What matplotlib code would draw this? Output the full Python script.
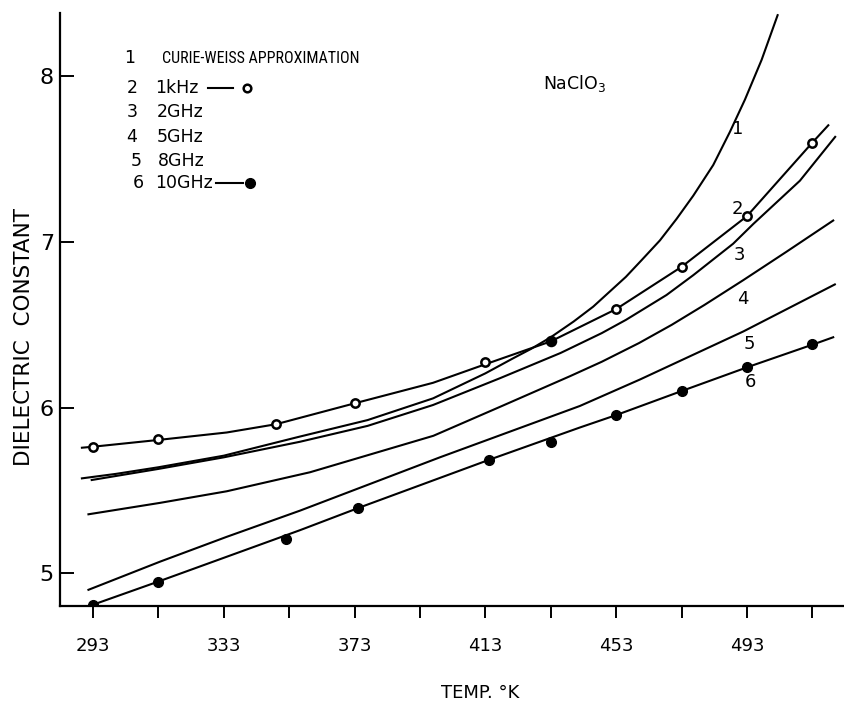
import matplotlib
matplotlib.use('Agg')
import matplotlib.pyplot as plt
from matplotlib import font_manager

# --- data (temperature in K, dielectric constant) ---

# 1  Curie-Weiss approximation
cw_temp = [289.6, 300, 313, 333, 356, 377, 397, 413, 421.5, 427, 433, 440,
           446, 451, 456, 461, 466.4, 471.5, 476.6, 482.7, 487.8, 492.4,
           497.5, 502.4]
cw_eps = [5.573, 5.60, 5.64, 5.71, 5.824, 5.925, 6.056, 6.207, 6.298, 6.355,
          6.425, 6.52, 6.61, 6.70, 6.79, 6.895, 7.01, 7.14, 7.28, 7.465,
          7.665, 7.86, 8.10, 8.37]

# 2  1 kHz (measured points + drawn curve)
khz_temp = [293, 313, 349, 373, 413, 433, 453, 473, 493, 513]
khz_eps = [5.764, 5.81, 5.90, 6.026, 6.277, 6.40, 6.595, 6.85, 7.156, 7.60]
khz_filled = [False, False, False, False, False, True, False, False, False, False]
khz_line_temp = [289.6, 293, 313, 333.9, 349, 373, 397, 413, 433, 453, 473,
                 493, 513, 517.9]
khz_line_eps = [5.758, 5.764, 5.805, 5.85, 5.90, 6.026, 6.15, 6.262, 6.40,
                6.595, 6.85, 7.156, 7.60, 7.705]

# 3  2 GHz
ghz2_temp = [292.6, 313, 333, 356.3, 377, 397, 417.5, 436, 448.6, 456,
             468.4, 476.6, 488.8, 495, 509.2, 520]
ghz2_eps = [5.563, 5.63, 5.70, 5.794, 5.89, 6.016, 6.178, 6.33, 6.45, 6.53,
            6.68, 6.80, 6.99, 7.11, 7.37, 7.635]

# 4  5 GHz
ghz5_temp = [291.6, 313.5, 333.9, 359.4, 397.1, 417.5, 438.9, 448.6, 460,
             470, 480, 491.9, 505, 519.4]
ghz5_eps = [5.356, 5.425, 5.495, 5.61, 5.83, 6.005, 6.19, 6.277, 6.39,
            6.50, 6.62, 6.77, 6.94, 7.13]

# 5  8 GHz
ghz8_temp = [291.6, 313.5, 333.9, 356.3, 399.1, 441.9, 460.3, 491.9, 519.9]
ghz8_eps = [4.90, 5.07, 5.22, 5.378, 5.70, 6.01, 6.17, 6.46, 6.744]

# 6  10 GHz (measured points + drawn line)
ghz10_temp = [293, 313, 352, 374, 414, 433, 453, 473, 493, 513]
ghz10_eps = [4.81, 4.95, 5.207, 5.396, 5.684, 5.794, 5.955, 6.10, 6.246, 6.382]
ghz10_line_temp = [293, 313, 356.3, 374.4, 414, 441.9, 453, 473, 493.4, 513.3, 519.4]
ghz10_line_eps = [4.81, 4.95, 5.26, 5.396, 5.684, 5.88, 5.955, 6.10, 6.246, 6.382, 6.425]

x_ticks = [293, 313, 333, 353, 373, 393, 413, 433, 453, 473, 493, 513]
x_tick_labels = ['293', '', '333', '', '373', '', '413', '', '453', '', '493', '']
y_ticks = [5, 6, 7, 8]

legend_numbers = ['1', '2', '3', '4', '5', '6']
legend_names = ['CURIE-WEISS APPROXIMATION', '1kHz', '2GHz', '5GHz', '8GHz', '10GHz']

# pick a condensed face for the long legend entry if one is around
installed = {f.name for f in font_manager.fontManager.ttflist}
narrow = 'DejaVu Sans'
for name in ['Liberation Sans Narrow', 'Roboto Condensed', 'Open Sans Condensed']:
    if name in installed:
        narrow = name
        break

plt.rcParams['font.family'] = 'DejaVu Sans'

fig = plt.figure(figsize=(8.44, 7.03), dpi=100)
ax = fig.add_axes([0.0711, 0.1384, 0.9289, 0.8431])

lw = 1.5
ax.plot(cw_temp, cw_eps, color='black', lw=lw)
ax.plot(khz_line_temp, khz_line_eps, color='black', lw=lw)
ax.plot(ghz2_temp, ghz2_eps, color='black', lw=lw)
ax.plot(ghz5_temp, ghz5_eps, color='black', lw=lw)
ax.plot(ghz8_temp, ghz8_eps, color='black', lw=lw)
ax.plot(ghz10_line_temp, ghz10_line_eps, color='black', lw=lw)

# measured points
for t, e, f in zip(khz_temp, khz_eps, khz_filled):
    ax.plot(t, e, 'o', ms=6.5 if f else 6, mfc='black' if f else 'white',
            mec='black', mew=1.8, zorder=5)
ax.plot(ghz10_temp, ghz10_eps, 'o', ms=7, color='black', zorder=5)

# curve numbers
curve_label_pos = [(490.1, 7.684), (490.2, 7.202), (490.8, 6.92),
                   (491.9, 6.655), (493.6, 6.383), (494.2, 6.157)]
for num, (t, e) in zip(legend_numbers, curve_label_pos):
    ax.text(t, e, num, fontsize=13, ha='center', va='center')

# hand-made key in the upper left
key_rows = [8.109, 7.928, 7.783, 7.632, 7.487, 7.354]
key_num_x = [304.3, 304.9, 304.9, 304.9, 306.1, 307.0]
key_text_x = [314.1, 311.9, 312.6, 312.6, 312.9, 311.9]
for i in range(6):
    ax.text(key_num_x[i], key_rows[i], legend_numbers[i], fontsize=12.5,
            ha='center', va='center')
    if i == 0:
        ax.text(key_text_x[i], key_rows[i], legend_names[i], fontsize=11.5,
                family=narrow, ha='left', va='center')
    else:
        ax.text(key_text_x[i], key_rows[i], legend_names[i], fontsize=12.5,
                ha='left', va='center')
ax.plot([328.2, 335.8], [key_rows[1], key_rows[1]], color='black', lw=1.5)
ax.plot(340.1, key_rows[1], 'o', ms=5.5, mfc='white', mec='black', mew=1.8)
ax.plot([330.6, 338.9], [key_rows[5], key_rows[5]], color='black', lw=1.5)
ax.plot(341.0, key_rows[5], 'o', ms=7, color='black')

ax.text(430.6, 7.925, 'NaClO$_3$', fontsize=12.5, ha='left', va='baseline')

# axes styling
ax.set_xlim(282.9, 522.7)
ax.set_ylim(4.804, 8.383)
ax.spines['top'].set_visible(False)
ax.spines['right'].set_visible(False)
ax.spines['left'].set_linewidth(1.6)
ax.spines['bottom'].set_linewidth(1.6)

ax.set_xticks(x_ticks)
ax.set_xticklabels(x_tick_labels)
ax.set_yticks(y_ticks)
ax.tick_params(axis='x', direction='out', length=8.6, width=1.4, pad=14, labelsize=13)
ax.tick_params(axis='y', direction='in', length=10, width=1.4, pad=4.5, labelsize=16)

# axis titles placed where the original lettering sits
fig.text(480 / 844, 1 - 693 / 703, 'TEMP. \u00b0K', fontsize=13,
         ha='center', va='center')
fig.text(24 / 844, 1 - 337 / 703, 'DIELECTRIC  CONSTANT', fontsize=15.5,
         rotation=90, ha='center', va='center')

fig.savefig('out.png', dpi=100)
